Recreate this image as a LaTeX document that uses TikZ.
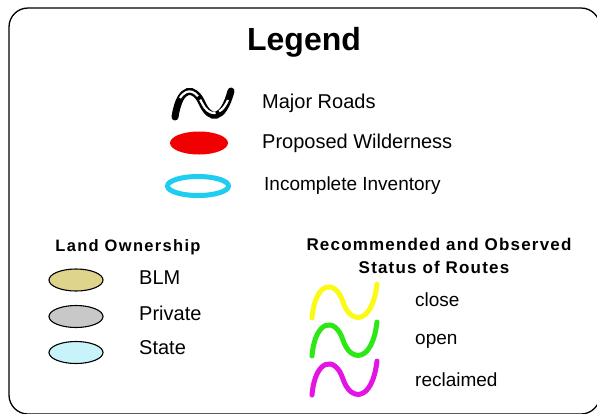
\documentclass[tikz,border=0pt]{standalone}
\usepackage{fontspec}
\setmainfont{Liberation Sans}
\definecolor{blmfill}{RGB}{222,212,140}
\definecolor{privfill}{RGB}{200,200,200}
\definecolor{statefill}{RGB}{200,243,250}
\definecolor{wildred}{RGB}{240,0,0}
\definecolor{invcyan}{RGB}{30,205,240}
\definecolor{rtyellow}{RGB}{250,250,20}
\definecolor{rtgreen}{RGB}{45,232,20}
\definecolor{rtmagenta}{RGB}{228,20,228}
\tikzset{
  lbl/.style={anchor=west, inner sep=0pt, font=\fontsize{20}{24}\selectfont},
  lblsm/.style={anchor=west, inner sep=0pt, font=\fontsize{19}{23}\selectfont},
  heading/.style={inner sep=0pt, font=\fontsize{17}{20}\selectfont\bfseries\addfontfeature{LetterSpace=7}},
  ownell/.style={draw=black, line width=1.1pt},
  route/.style={line width=5pt, line cap=round},
}
\begin{document}
\begin{tikzpicture}[x=1pt,y=-1pt]
\useasboundingbox (0,0) rectangle (597,413);
\clip (0,0) rectangle (597,413);
\fill[white] (0,0) rectangle (597,413);
% frame
\draw[line width=1.3pt, rounded corners=19pt] (9,8) rectangle (600,414);
% title
\node[inner sep=0pt, font=\fontsize{32}{36}\selectfont\bfseries] (title) at (304,42) {Legend};
% major roads icon
\draw[line width=7pt, line cap=round] (175,117) .. controls (180,84) and (195,87) .. (202,103) .. controls (210,121) and (223,121) .. (231,91);
\draw[white, line width=2.2pt, dash pattern=on 22pt off 4pt] (180,98) .. controls (188,86) and (197,92) .. (202,103) .. controls (208,116) and (220,118) .. (228,100);
\node[lbl] (roads) at (262,103) {Major Roads};
% proposed wilderness
\fill[wildred] (199,143) ellipse [x radius=29, y radius=11.5];
\node[lbl] (wild) at (262,143) {Proposed Wilderness};
% incomplete inventory
\draw[invcyan, line width=5pt] (198,186) ellipse [x radius=30.5, y radius=9.5];
\node[lblsm] (inv) at (264,186) {Incomplete Inventory};
% land ownership
\node[inner sep=0pt, font=\fontsize{16.5}{19}\selectfont\bfseries\addfontfeature{LetterSpace=8}] (own) at (128,247) {Land Ownership};
\filldraw[ownell, fill=blmfill] (76,280) ellipse [x radius=27, y radius=11];
\filldraw[ownell, fill=privfill] (76,316.5) ellipse [x radius=27, y radius=11];
\filldraw[ownell, fill=statefill] (76,352.5) ellipse [x radius=27, y radius=11];
\node[lbl] (blm) at (139,278) {BLM};
\node[lbl] (priv) at (139,313) {Private};
\node[lbl] (state) at (139,348) {State};
% routes
\node[heading] (rec1) at (439,244) {Recommended and Observed};
\node[heading] (rec2) at (434,267) {Status of Routes};
\foreach \c/\dy in {rtyellow/0, rtgreen/38, rtmagenta/77}{
  \draw[route, \c] (312,318+\dy) .. controls (315,282+\dy) and (335,278+\dy) .. (343,302+\dy) .. controls (350,324+\dy) and (372,326+\dy) .. (377,284+\dy);
}
\node[lblsm] (close) at (415,300) {close};
\node[lblsm] (open) at (415,341) {open};
\node[lblsm] (recl) at (415,380) {reclaimed};
\end{tikzpicture}
\end{document}
